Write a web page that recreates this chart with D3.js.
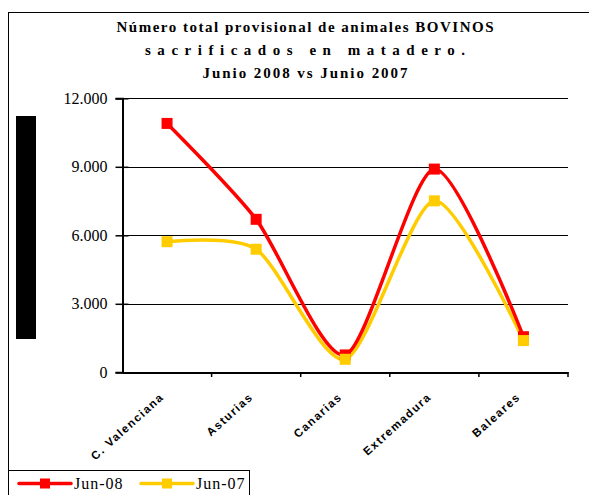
<!DOCTYPE html>
<html><head><meta charset="utf-8">
<script src="https://cdn.jsdelivr.net/npm/d3@7"></script>
<style>body{margin:0;background:#fff}svg{display:block}</style>
</head><body><svg id="c" width="589" height="495"></svg>
<script>
const categories = ["C. Valenciana", "Asturias", "Canarias", "Extremadura", "Baleares"];
const jun08 = [10900, 6700, 760, 8900, 1560];
const jun07 = [5720, 5390, 570, 7510, 1390];
const yTicks = [0, 3000, 6000, 9000, 12000];
const titleLines = ["Número total provisional de animales BOVINOS", "sacrificados en matadero.", "Junio 2008 vs Junio 2007"];
const seriesNames = ["Jun-08", "Jun-07"];
const colors = ["#FF0000", "#FFCC00"];

const svg = d3.select("#c");
// outer frame
svg.append("rect").attr("x", 8.5).attr("y", 12.5).attr("width", 620).attr("height", 520)
  .attr("fill", "none").attr("stroke", "#000").attr("stroke-width", 1);

// title
const tW = [377, 320, 205], tY = [32, 55, 78];
titleLines.forEach((t, i) => {
  svg.append("text").attr("x", 305).attr("y", tY[i]).attr("text-anchor", "middle")
    .attr("font-family", "Liberation Serif, Times New Roman, serif").attr("font-weight", "bold")
    .attr("font-size", 15).attr("textLength", tW[i]).attr("lengthAdjust", "spacing").text(t);
});

const x = d3.scaleBand().domain(categories).range([122.5, 568]);
const y = d3.scaleLinear().domain([0, 12000]).range([372.3, 98.3]);

// gridlines
svg.append("g").selectAll("line").data(yTicks.slice(1)).join("line")
  .attr("x1", 122).attr("x2", 568).attr("y1", d => Math.round(y(d)) + 0.5).attr("y2", d => Math.round(y(d)) + 0.5)
  .attr("stroke", "#000").attr("stroke-width", 1);

// y axis
const yAxis = svg.append("g").attr("transform", "translate(122.5,0)")
  .call(d3.axisLeft(y).tickValues(yTicks).tickSize(7).tickPadding(9)
    .tickFormat(d => d3.format(",")(d).replace(/,/g, ".")));
yAxis.select(".domain").attr("stroke-width", 2);
yAxis.selectAll(".tick line").attr("x2", 6).attr("x1", -7).attr("stroke-width", 1.5);
yAxis.selectAll(".tick text").attr("font-family", "Liberation Serif, Times New Roman, serif")
  .attr("font-size", 16).attr("fill", "#000").attr("x", -15);

// x axis
const xAxis = svg.append("g").attr("transform", "translate(0,372.5)")
  .call(d3.axisBottom(x).tickSize(0).tickFormat(""));
xAxis.select(".domain").attr("stroke-width", 2);
const bounds = categories.map(c => x(c) + x.bandwidth());
svg.append("g").selectAll("line").data(bounds).join("line")
  .attr("x1", d => d).attr("x2", d => d).attr("y1", 372).attr("y2", 377)
  .attr("stroke", "#000").attr("stroke-width", 1.5);
svg.append("g").selectAll("text").data(categories).join("text")
  .attr("transform", d => `translate(${x(d) + x.bandwidth() / 2 - 5},${395}) rotate(-42)`)
  .attr("text-anchor", "end").attr("dy", "0.35em")
  .attr("font-family", "Liberation Sans, Arial, sans-serif").attr("font-weight", "bold")
  .attr("font-size", 11.5).attr("letter-spacing", 1.5).text(d => d);

// black bar (axis title block)
svg.append("rect").attr("x", 16).attr("y", 116).attr("width", 20).attr("height", 223).attr("fill", "#000");

// lines
const line = d3.line().x((d, i) => x(categories[i]) + x.bandwidth() / 2).y(d => y(d))
  .curve(d3.curveCardinal.tension(0.25));
[jun07, jun08].forEach((s, k) => {
  const col = k === 0 ? colors[1] : colors[0];
  svg.append("path").datum(s).attr("d", line).attr("fill", "none")
    .attr("stroke", col).attr("stroke-width", 3.5).attr("stroke-linejoin", "round");
});
[jun08, jun07].forEach((s, k) => {
  svg.append("g").selectAll("rect").data(s).join("rect")
    .attr("x", (d, i) => x(categories[i]) + x.bandwidth() / 2 - 5.5).attr("y", d => y(d) - 5.5)
    .attr("width", 11).attr("height", 11).attr("fill", colors[k]);
});

// legend
svg.append("rect").attr("x", 8.5).attr("y", 470.5).attr("width", 241).attr("height", 40)
  .attr("fill", "#fff").attr("stroke", "#000");
const lx = [19, 141];
seriesNames.forEach((n, k) => {
  const g = svg.append("g");
  g.append("line").attr("x1", lx[k]).attr("x2", lx[k] + 52).attr("y1", 483.5).attr("y2", 483.5)
    .attr("stroke", colors[k]).attr("stroke-width", 3.5).attr("stroke-linecap", "round");
  g.append("rect").attr("x", lx[k] + 21).attr("y", 478.5).attr("width", 10).attr("height", 10).attr("fill", colors[k]);
  g.append("text").attr("x", lx[k] + 55).attr("y", 489).attr("font-family", "Liberation Serif, Times New Roman, serif")
    .attr("font-size", 16).attr("letter-spacing", 1).text(n);
});
</script></body></html>
